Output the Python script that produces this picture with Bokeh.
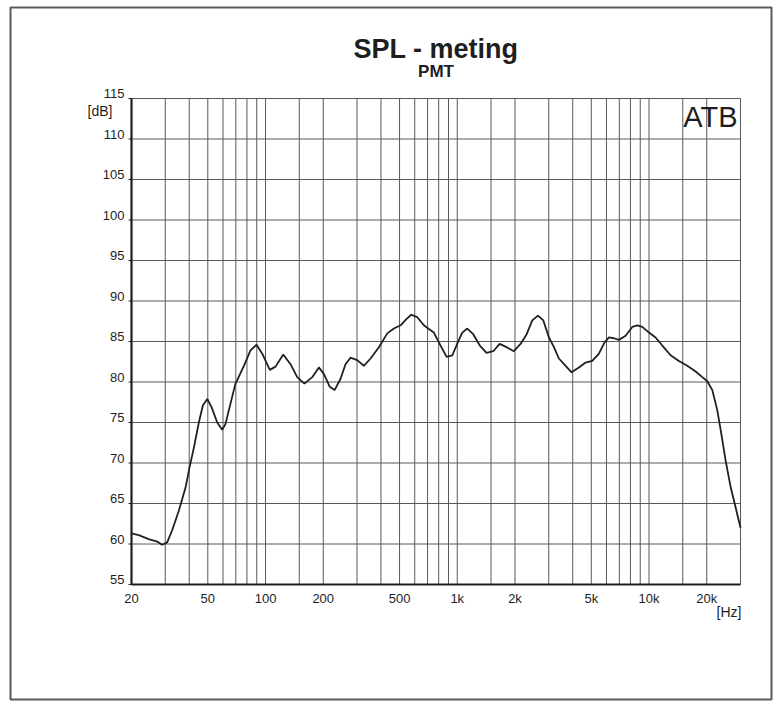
import math
from bokeh.plotting import figure
from bokeh.models import FixedTicker, Label, LabelSet, ColumnDataSource, Range1d
from bokeh.core.properties import value
from bokeh.embed import file_html
from bokeh.resources import INLINE

# Frequency response of the PMT driver (SPL in dB vs frequency in Hz)
freq_hz = [20, 21.8, 24.6, 27.2, 28.9, 30.7, 32.6, 35.3, 38.3, 40.1, 42.3, 44.9,
           47.1, 49.7, 52.3, 56.0, 59.4, 61.8, 65.6, 69.7, 71.1, 77.1, 83.5, 89.8,
           96.1, 105.3, 112.8, 123.7, 135.0, 146.3, 159.6, 175.3, 189.7, 201.4,
           216.4, 229.2, 246.2, 261.3, 277.4, 300.8, 325.7, 353.1, 390.2, 431.7,
           467.2, 506.3, 544.4, 575.6, 618.5, 669.6, 726.2, 755.1, 818.3, 879.6,
           942.3, 1007, 1062, 1128, 1211, 1311, 1421, 1541, 1663, 1808, 1973,
           2138, 2301, 2462, 2635, 2811, 3006, 3192, 3389, 3673, 3946, 4307, 4668,
           5059, 5479, 5866, 6180, 6561, 6966, 7550, 8183, 8689, 9226, 10000,
           10820, 11730, 12960, 14320, 15840, 17500, 18970, 20140, 21390, 22710,
           23830, 25100, 26670, 28300, 30000]
spl_db = [61.3, 61.1, 60.6, 60.3, 59.9, 60.2, 61.7, 64.1, 67.0, 69.4, 71.9, 75.0,
          77.1, 77.9, 76.9, 75.0, 74.1, 74.8, 77.3, 79.8, 80.2, 82.0, 83.9, 84.6,
          83.5, 81.5, 81.9, 83.4, 82.2, 80.6, 79.8, 80.6, 81.8, 81.0,
          79.4, 79.0, 80.4, 82.2, 83.0, 82.7, 82.0, 82.9, 84.3, 86.0,
          86.6, 87.0, 87.8, 88.3, 88.0, 87.0, 86.4, 86.1, 84.5, 83.1,
          83.3, 84.9, 86.1, 86.6, 85.9, 84.5, 83.6, 83.8, 84.7, 84.3, 83.8,
          84.7, 85.9, 87.6, 88.2, 87.6, 85.5, 84.3, 82.9, 82.0, 81.2, 81.8, 82.4,
          82.6, 83.5, 84.9, 85.5, 85.4, 85.2, 85.7, 86.8, 87.0, 86.8, 86.1,
          85.5, 84.5, 83.3, 82.6, 82.0, 81.3, 80.6, 80.1, 79.0, 76.5,
          73.6, 70.3, 67.0, 64.5, 62.0]

# Axis ticks and grid
x_label_ticks = [20, 50, 100, 200, 500, 1000, 2000, 5000, 10000, 20000]
x_label_text = ["20", "50", "100", "200", "500", "1k", "2k", "5k", "10k", "20k"]
x_grid_ticks = [30, 40, 50, 60, 70, 80, 90, 100,
                150, 200, 300, 400, 500, 600, 700, 800, 900, 1000,
                1500, 2000, 3000, 4000, 5000, 6000, 7000, 8000, 9000, 10000,
                15000, 20000]
y_ticks = [55, 60, 65, 70, 75, 80, 85, 90, 95, 100, 105, 110, 115]
y_tick_text = ["55", "60", "65", "70", "75", "80", "85", "90", "95", "100", "105", "110", "115"]

F_MIN, F_MAX = 20, 30000
DB_MIN, DB_MAX = 55, 115

# Page layout (pixels): outer framed box and the diagram area inside it
W, H = 777, 709
BOX_L, BOX_R, BOX_T, BOX_B = 10, 771, 7, 699
PLOT_L, PLOT_R, PLOT_T, PLOT_B = 131, 740, 98, 584

# Extend the data ranges so the diagram area lands on PLOT_* inside the box
px_per_dec = (PLOT_R - PLOT_L) / math.log10(F_MAX / F_MIN)
x_lo = F_MIN / 10 ** ((PLOT_L - BOX_L) / px_per_dec)
x_hi = F_MAX * 10 ** ((BOX_R - PLOT_R) / px_per_dec)
px_per_db = (PLOT_B - PLOT_T) / (DB_MAX - DB_MIN)
y_lo = DB_MIN - (BOX_B - PLOT_B) / px_per_db
y_hi = DB_MAX + (PLOT_T - BOX_T) / px_per_db

FONT = "Liberation Sans"
INK = "#1e1e1e"
GRID = "#585858"

p = figure(width=W, height=H, x_axis_type="log",
           x_range=Range1d(x_lo, x_hi), y_range=Range1d(y_lo, y_hi),
           output_backend="svg", toolbar_location=None,
           min_border_left=BOX_L, min_border_right=W - BOX_R,
           min_border_top=BOX_T, min_border_bottom=H - BOX_B)
p.background_fill_color = "white"
p.border_fill_color = "white"
p.outline_line_color = "#5a5a5a"
p.outline_line_width = 2
p.xgrid.visible = False
p.ygrid.visible = False

# grid lines of the diagram
n_v = len(x_grid_ticks)
p.segment(x0=x_grid_ticks, y0=[DB_MIN] * n_v, x1=x_grid_ticks, y1=[DB_MAX] * n_v,
          line_color=GRID, line_width=1)
n_h = len(y_ticks)
p.segment(x0=[F_MIN] * n_h, y0=y_ticks, x1=[F_MAX] * n_h, y1=y_ticks,
          line_color=GRID, line_width=1)
# right-hand border of the diagram
p.segment(x0=[F_MAX], y0=[DB_MIN], x1=[F_MAX], y1=[DB_MAX],
          line_color=GRID, line_width=1)
# short outer tick marks on the dB axis
p.segment(x0=[F_MIN] * n_h, y0=y_ticks, x1=[F_MIN * 0.965] * n_h, y1=y_ticks,
          line_color=INK, line_width=1)

# x axis along the 55 dB line
xa = p.xaxis[0]
xa.fixed_location = DB_MIN
xa.bounds = (F_MIN, F_MAX)
xa.ticker = FixedTicker(ticks=x_label_ticks, minor_ticks=[])
xa.major_label_overrides = {t: s for t, s in zip(x_label_ticks, x_label_text)}
xa.axis_line_color = INK
xa.axis_line_width = 2.2
xa.major_tick_line_color = None
xa.minor_tick_line_color = None
xa.major_label_standoff = 0
xa.major_label_text_font = FONT
xa.major_label_text_font_size = "13px"
xa.major_label_text_color = INK

# y axis along 20 Hz (line only, values are written just above each grid line)
ya = p.yaxis[0]
ya.fixed_location = F_MIN
ya.bounds = (DB_MIN, DB_MAX)
ya.ticker = FixedTicker(ticks=[], minor_ticks=[])
ya.axis_line_color = INK
ya.axis_line_width = 2.2
ya.major_tick_line_color = None
ya.minor_tick_line_color = None

ylab_src = ColumnDataSource(dict(x=[F_MIN] * len(y_ticks), y=y_ticks, t=y_tick_text))
p.add_layout(LabelSet(x="x", y="y", text="t", source=ylab_src,
                      x_offset=-7, y_offset=5, text_align="right",
                      text_baseline="middle", text_font=value(FONT),
                      text_font_size=value("13px"), text_color=INK))

# response curve
p.line(freq_hz, spl_db, line_color="#202020", line_width=1.8)

# titles and unit labels
x_mid = math.sqrt(F_MIN * F_MAX)
p.add_layout(Label(x=x_mid, y=DB_MAX, y_offset=50, text="SPL - meting",
                   text_align="center", text_baseline="middle",
                   text_font=FONT, text_font_style="bold",
                   text_font_size="27px", text_color=INK))
p.add_layout(Label(x=x_mid, y=DB_MAX, y_offset=27, text="PMT",
                   text_align="center", text_baseline="middle",
                   text_font=FONT, text_font_style="bold",
                   text_font_size="17px", text_color=INK))
p.add_layout(Label(x=F_MAX, y=DB_MAX, x_offset=-3, y_offset=-18, text="ATB",
                   text_align="right", text_baseline="middle",
                   text_font=FONT, text_font_size="29px", text_color=INK))
p.add_layout(Label(x=F_MIN, y=DB_MAX, x_offset=-19, y_offset=-12, text="[dB]",
                   text_align="right", text_baseline="middle",
                   text_font=FONT, text_font_size="14px", text_color=INK))
p.add_layout(Label(x=F_MAX, y=DB_MIN, x_offset=1, y_offset=-27, text="[Hz]",
                   text_align="right", text_baseline="middle",
                   text_font=FONT, text_font_size="14px", text_color=INK))

open("out.html", "w").write(file_html(p, INLINE))
